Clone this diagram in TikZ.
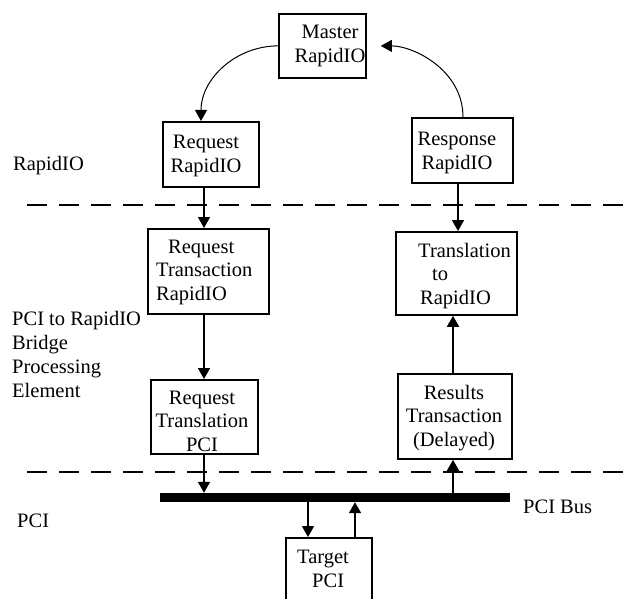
\documentclass[tikz,border=0pt]{standalone}
\usepackage{fontspec}
\setmainfont{Liberation Serif}
\usetikzlibrary{arrows.meta}
\begin{document}
\begin{tikzpicture}[x=1pt,y=-1pt,
  box/.style={draw,line width=1.8pt,inner sep=0,anchor=north west},
  txt/.style={inner sep=0,font=\fontsize{20.5}{23.5}\selectfont,align=center},
  ltxt/.style={txt,align=left,anchor=west},
  side/.style={inner sep=0,font=\fontsize{20.5}{23.5}\selectfont,anchor=base west},
  arr/.style={line width=1.6pt,-{Triangle[length=11pt,width=12pt]}},
  carr/.style={line width=1pt,-{Triangle[length=11pt,width=12pt]}},
  divider/.style={line width=1.8pt,dash pattern=on 20pt off 12pt}
]
\useasboundingbox (0,0) rectangle (626,599);

% lanes for the vertical connectors
\coordinate (lanel) at (204,0);
\coordinate (laner) at (458,0);
\coordinate (lanes) at (453,0);
\coordinate (lanet) at (308,0);
\coordinate (laneu) at (355,0);
\coordinate (lanec) at (201,0);
\coordinate (laned) at (463,0);

% domain separators
\coordinate (d1a) at (27,205);  \coordinate (d1b) at (626,205);
\coordinate (d2a) at (27,472);  \coordinate (d2b) at (626,472);
\draw[divider] (d1a) -- (d1b);
\draw[divider] (d2a) -- (d2b);

% boxes
\node[box,minimum width=87pt,minimum height=64pt] (master) at (278,13) {};
\node[box,minimum width=96pt,minimum height=65pt] (reqrio) at (162,121) {};
\node[box,minimum width=101pt,minimum height=65pt] (resrio) at (411,117) {};
\node[box,minimum width=121pt,minimum height=85pt] (reqtr) at (147,228) {};
\node[box,minimum width=121pt,minimum height=83pt] (trans) at (395,231) {};
\node[box,minimum width=107pt,minimum height=74pt] (reqpci) at (150,379) {};
\node[box,minimum width=114pt,minimum height=85pt] (results) at (397,373) {};
\node[box,minimum width=86pt,minimum height=80pt] (target) at (285,537) {};

% box texts
\node[txt] (mastert) at (330,46) {Master\\RapidIO};
\node[txt] (reqriot) at (206,156) {Request\\RapidIO};
\node[txt] (resriot) at (457,153) {Response\\RapidIO};
\node[ltxt] (reqtrt) at (156,272) {\hspace{12pt}Request\\Transaction\\RapidIO};
\node[ltxt] (transt) at (418,276) {Translation\\\hspace{14pt}to\\\hspace{2pt}RapidIO};
\node[txt] (reqpcit) at (202,421) {Request\\Translation\\PCI};
\node[txt] (resultst) at (454,418) {Results\\Transaction\\(Delayed)};
\node[ltxt] (targett) at (297,569) {Target\\\hspace{15pt}PCI};

% bus
\node[fill=black,inner sep=0,minimum width=350pt,minimum height=9pt] (bus) at (335,497.5) {};

% side labels
\node[side] (lrio) at (13,170) {RapidIO};
\node[side] (lb1) at (12,325) {PCI to RapidIO};
\node[side] (lb2) at (12,349) {Bridge};
\node[side] (lb3) at (12,373) {Processing};
\node[side] (lb4) at (12,397) {Element};
\node[side] (lpci) at (17,527) {PCI};
\node[side] (lbus) at (523,513) {PCI Bus};

% request path
\draw[arr] (lanel |- reqrio.south) -- (lanel |- reqtr.north);
\draw[arr] (lanel |- reqtr.south) -- (lanel |- reqpci.north);
\draw[arr] (lanel |- reqpci.south) -- (lanel |- bus.north);
% target on the bus
\draw[arr] (lanet |- bus.south) -- (lanet |- target.north);
\draw[arr] (laneu |- target.north) -- (laneu |- bus.south);
% response path
\draw[arr] (lanes |- bus.north) -- (lanes |- results.south);
\draw[arr] (lanes |- results.north) -- (lanes |- trans.south);
\draw[arr] (laner |- resrio.south) -- (laner |- trans.north);
% master loop
\draw[carr] (master.west) to[out=180,in=90] (lanec |- reqrio.north);
\draw[carr,shorten >=14pt] (laned |- resrio.north) to[out=90,in=0] (master.east);
\end{tikzpicture}
\end{document}
